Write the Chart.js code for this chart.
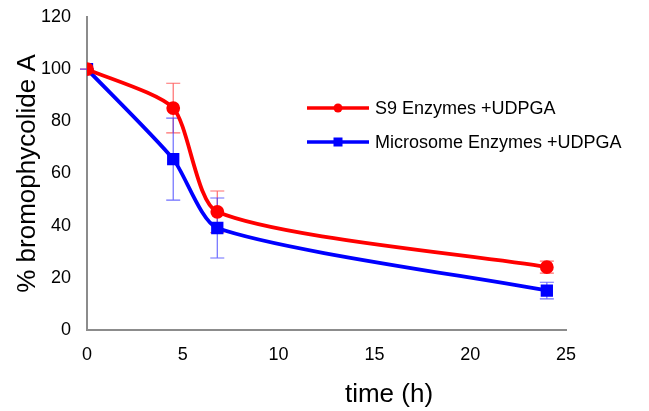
<!DOCTYPE html>
<html>
<head>
<meta charset="utf-8">
<script src="https://cdn.jsdelivr.net/npm/chart.js@4/dist/chart.umd.min.js"></script>
<style>
  html, body { margin: 0; padding: 0; background: #fff; }
  #wrap { width: 649px; height: 411px; position: relative; }
</style>
</head>
<body>
<div id="wrap"><canvas id="c" width="649" height="411"></canvas></div>
<script>
const times = [0, 4.5, 6.8, 24];
const s9Values = [100, 85.1, 45.3, 24.1];
const s9Errors = [0, 9.5, 8.0, 2.3];
const microsomeValues = [100, 65.5, 39.1, 15.1];
const microsomeErrors = [0, 15.7, 11.5, 3.2];
const seriesNames = ['S9 Enzymes +UDPGA', 'Microsome Enzymes +UDPGA'];
const xTicks = [0, 5, 10, 15, 20, 25];
const yTicks = [0, 20, 40, 60, 80, 100, 120];
const xTitle = 'time (h)';
const yTitle = '% bromophycolide A';

const FONT = '"Liberation Sans", Arial, sans-serif';

function toPoints(xs, ys) { return xs.map((x, i) => ({ x: x, y: ys[i] })); }

const errorBarPlugin = {
  id: 'errorBars',
  beforeDatasetsDraw(chart) {
    const ctx = chart.ctx;
    const xs = chart.scales.x, ys = chart.scales.y;
    chart.data.datasets.forEach((ds) => {
      const errs = ds.errors;
      ctx.save();
      ctx.strokeStyle = ds.errorColor;
      ctx.lineWidth = 1.2;
      ds.data.forEach((p, i) => {
        const px = xs.getPixelForValue(p.x);
        const top = ys.getPixelForValue(p.y + errs[i]);
        const bot = ys.getPixelForValue(p.y - errs[i]);
        ctx.beginPath();
        ctx.moveTo(px, top); ctx.lineTo(px, bot);
        ctx.moveTo(px - 7, top); ctx.lineTo(px + 7, top);
        ctx.moveTo(px - 7, bot); ctx.lineTo(px + 7, bot);
        ctx.stroke();
      });
      ctx.restore();
    });
  }
};

const legendPlugin = {
  id: 'insideLegend',
  afterDraw(chart) {
    const ctx = chart.ctx;
    const a = chart.chartArea;
    const x0 = a.left + 220, x1 = a.left + 282, tx = a.left + 288;
    const rows = [a.top + 91, a.top + 125];
    ctx.save();
    chart.data.datasets.forEach((ds, i) => {
      const y = rows[i];
      ctx.strokeStyle = ds.borderColor;
      ctx.lineWidth = 3.5;
      ctx.beginPath(); ctx.moveTo(x0, y); ctx.lineTo(x1, y); ctx.stroke();
      ctx.fillStyle = ds.borderColor;
      const mx = (x0 + x1) / 2;
      if (ds.pointStyle === 'rect') {
        ctx.fillRect(mx - 4.5, y - 4.5, 9, 9);
      } else {
        ctx.beginPath(); ctx.arc(mx, y, 4.5, 0, Math.PI * 2); ctx.fill();
      }
      ctx.fillStyle = '#000';
      ctx.font = '18px ' + FONT;
      ctx.textBaseline = 'middle';
      ctx.textAlign = 'left';
      ctx.fillText(ds.label, tx, y + 1);
    });
    ctx.font = '26px ' + FONT;
    ctx.textAlign = 'center';
    ctx.textBaseline = 'middle';
    ctx.fillText(xTitle, a.left + 302, a.bottom + 65);
    ctx.restore();
  }
};

new Chart(document.getElementById('c'), {
  type: 'line',
  data: {
    datasets: [
      {
        label: seriesNames[0],
        data: toPoints(times, s9Values),
        errors: s9Errors,
        errorColor: 'rgba(255,60,60,0.75)',
        borderColor: '#ff0000',
        backgroundColor: '#ff0000',
        borderWidth: 3.8,
        pointStyle: 'circle',
        pointRadius: 5,
        tension: 0.22,
        fill: false
      },
      {
        label: seriesNames[1],
        data: toPoints(times, microsomeValues),
        errors: microsomeErrors,
        errorColor: 'rgba(60,60,255,0.75)',
        borderColor: '#0000ff',
        backgroundColor: '#0000ff',
        borderWidth: 3.8,
        pointStyle: 'rect',
        pointRadius: 6,
        tension: 0.22,
        fill: false
      }
    ]
  },
  options: {
    responsive: false,
    animation: false,
    layout: { padding: { left: 0, right: 83, top: 17, bottom: 0 } },
    plugins: { legend: { display: false }, tooltip: { enabled: false } },
    scales: {
      x: {
        type: 'linear', min: 0, max: 25,
        afterBuildTicks(s) { s.ticks = xTicks.map(v => ({ value: v })); },
        afterFit(s) { s.height = 81; },
        grid: { display: false, drawTicks: false },
        border: { display: true, color: '#8c8c8c', width: 2 },
        ticks: { color: '#000', font: { family: FONT, size: 18 }, padding: 14, maxRotation: 0 },
        title: { display: false }
      },
      y: {
        type: 'linear', min: 0, max: 120,
        afterBuildTicks(s) { s.ticks = yTicks.map(v => ({ value: v })); },
        afterFit(s) { s.width = 87; s.paddingTop = 0; s.paddingBottom = 0; },
        grid: { display: false, drawTicks: false },
        border: { display: true, color: '#8c8c8c', width: 2 },
        ticks: { color: '#000', font: { family: FONT, size: 18 }, padding: 16 },
        title: { display: true, text: yTitle, color: '#000', font: { family: FONT, size: 26 }, padding: { top: 12, bottom: 4 } }
      }
    }
  },
  plugins: [errorBarPlugin, legendPlugin]
});
</script>
</body>
</html>
